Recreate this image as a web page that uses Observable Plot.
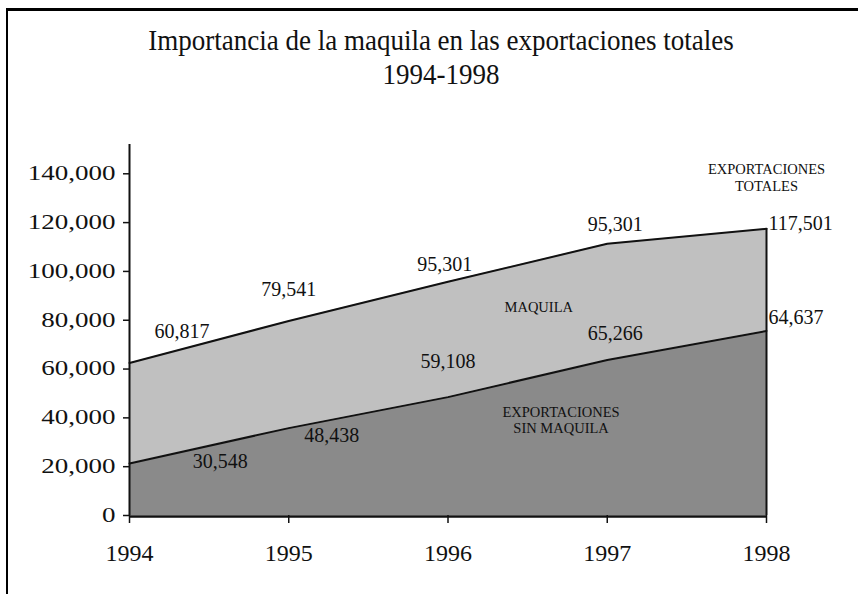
<!DOCTYPE html>
<html><head><meta charset="utf-8">
<script src="https://cdn.jsdelivr.net/npm/d3@7"></script>
<script src="https://cdn.jsdelivr.net/npm/@observablehq/plot@0.6"></script>
<style>
body{margin:0;background:#fff;}
#wrap{position:relative;width:858px;height:594px;overflow:hidden;font-family:"Liberation Serif","Times New Roman",serif;}
#frame{position:absolute;left:6px;top:8px;width:860px;height:600px;border-left:2px solid #000;border-top:3px solid #000;box-sizing:border-box;}
#title{position:absolute;left:0;width:882px;top:23px;text-align:center;font-size:30px;line-height:34px;color:#111;transform:scaleX(0.9);transform-origin:441px 0;}
#chart{position:absolute;left:0;top:100px;}
#chart svg, #chart svg text, #chart svg tspan{font-family:"Liberation Serif","Times New Roman",serif !important;}
</style></head><body>
<div id="wrap"><div id="frame"></div>
<div id="title">Importancia de la maquila en las exportaciones totales<br>1994-1998</div>
<div id="chart"></div></div>
<script>
// Data
const years = [1994, 1995, 1996, 1997, 1998];
const totales = [62500, 79700, 95800, 111300, 117500];
const sinMaquila = [21300, 35800, 48500, 63700, 75600];
const yTicks = [0, 20000, 40000, 60000, 80000, 100000, 120000, 140000];

// Value annotations (text, anchored in data space)
const numText = ["60,817", "79,541", "95,301", "95,301", "59,108", "65,266", "30,548", "48,438"];
const numYear = [1994.33, 1995.0, 1995.98, 1997.05, 1996.0, 1997.05, 1994.57, 1995.27];
const numValue = [75400, 92400, 102900, 119000, 63100, 74700, 22100, 32900];
// End annotations (left-aligned just right of 1998)
const endText = ["117,501", "64,637"];
const endValue = [119700, 81100];
// Area names
const nameText = ["EXPORTACIONES\nTOTALES", "MAQUILA", "EXPORTACIONES\nSIN MAQUILA"];
const nameYear = [1998, 1996.57, 1996.71];
const nameValue = [138500, 85600, 39300];

const rows = years.map((yr, i) => ({year: yr, total: totales[i], sin: sinMaquila[i]}));
const nums = numText.map((t, i) => ({t, x: numYear[i], y: numValue[i]}));
const ends = endText.map((t, i) => ({t, x: 1998, y: endValue[i]}));
const names = nameText.map((t, i) => ({t, x: nameYear[i], y: nameValue[i]}));

const font = "Liberation Serif";
const plot = Plot.plot({
  width: 858, height: 494,
  marginLeft: 129, marginRight: 92, marginTop: 44, marginBottom: 79,
  style: {background: "transparent", color: "#111"},
  x: {domain: [1994, 1998]},
  y: {domain: [0, 152000]},
  marks: [
    Plot.areaY(rows, {x: "year", y1: 0, y2: "sin", fill: "#8a8a8a"}),
    Plot.areaY(rows, {x: "year", y1: "sin", y2: "total", fill: "#c0c0c0"}),
    Plot.line(rows, {x: "year", y: "total", stroke: "#111", strokeWidth: 2}),
    Plot.line(rows, {x: "year", y: "sin", stroke: "#111", strokeWidth: 2}),
    Plot.ruleX(rows.filter(d => d.year === 1998), {x: "year", y1: 0, y2: "total", stroke: "#111", strokeWidth: 2}),
    Plot.ruleX([1994], {y1: 0, y2: 152000, stroke: "#111", strokeWidth: 2}),
    Plot.ruleY([0], {stroke: "#111", strokeWidth: 2.5, dy: 1}),
    Plot.axisX({ticks: years, tickFormat: d => String(d), label: null, tickSize: 8, tickPadding: 20, fontSize: 24, fontFamily: font, stroke: "#111", strokeWidth: 1.5}),
    Plot.axisY({ticks: yTicks, tickFormat: d3.format(","), label: null, tickSize: 6, tickPadding: 8, fontSize: 20, fontFamily: font, stroke: "#111", strokeWidth: 1.5}),
    Plot.text(nums, {x: "x", y: "y", text: "t", fontSize: 20, fontFamily: font, fill: "#111"}),
    Plot.text(ends, {x: "x", y: "y", text: "t", fontSize: 20, fontFamily: font, fill: "#111", textAnchor: "start", dx: 2}),
    Plot.text(names, {x: "x", y: "y", text: "t", fontSize: 14.5, fontFamily: font, fill: "#111", lineHeight: 1.15})
  ]
});
document.getElementById("chart").appendChild(plot);
// widen the y tick labels like the reference (horizontal stretch)
plot.querySelectorAll('g[aria-label="y-axis tick label"] text').forEach(t => {
  const tr = t.getAttribute("transform") || "";
  t.setAttribute("transform", tr + " scale(1.35,1)");
});
</script>
</body></html>
